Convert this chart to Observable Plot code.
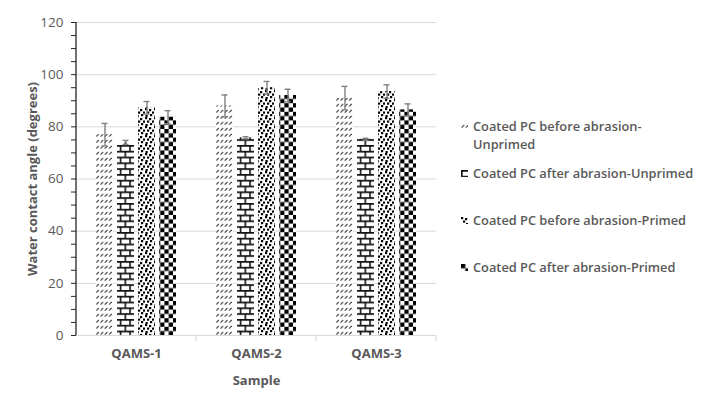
<!DOCTYPE html>
<html>
<head>
<meta charset="utf-8">
<script src="https://cdn.jsdelivr.net/npm/d3@7"></script>
<script src="https://cdn.jsdelivr.net/npm/@observablehq/plot@0.6"></script>
<style>
  html, body { margin: 0; padding: 0; background: #fff; }
  #wrap { position: relative; width: 726px; height: 397px; font-family: "Open Sans", sans-serif; }
  #legend { position: absolute; left: 461px; top: 117px; color: #595959; font-size: 12.8px; font-weight: 600; }
  .item { position: relative; height: 47px; }
  .item svg { position: absolute; left: 0; top: 6px; }
  .item span { position: absolute; left: 12px; top: 0; width: 222px; line-height: 18px; }
</style>
</head>
<body>
<div id="wrap"><div id="chart"></div><div id="legend"></div></div>
<script>
const samples = ["QAMS-1", "QAMS-2", "QAMS-3"];
const series = [
  "Coated PC before abrasion-Unprimed",
  "Coated PC after abrasion-Unprimed",
  "Coated PC before abrasion-Primed",
  "Coated PC after abrasion-Primed"
];
const beforeUnprimed = [77, 88, 91];
const afterUnprimed = [74, 75.8, 75.2];
const beforePrimed = [87.3, 95, 93.5];
const afterPrimed = [83.7, 92, 86.5];
const errBeforeUnprimed = [4.3, 4.2, 4.5];
const errAfterUnprimed = [0.8, 0.4, 0.4];
const errBeforePrimed = [2.4, 2.4, 2.6];
const errAfterPrimed = [2.5, 2.4, 2.3];
const yTicks = [0, 20, 40, 60, 80, 100, 120];

const values = [beforeUnprimed, afterUnprimed, beforePrimed, afterPrimed];
const errors = [errBeforeUnprimed, errAfterUnprimed, errBeforePrimed, errAfterPrimed];
const patternIds = ["pat0", "pat1", "pat2", "pat3"];
const patternUrls = patternIds.map(id => `url(#${id})`);

const data = samples.flatMap((s, i) => series.map((name, j) => ({
  sample: s, series: name, value: values[j][i], err: errors[j][i]
})));

const plot = Plot.plot({
  width: 726,
  height: 397,
  marginLeft: 75,
  marginRight: 289,
  marginTop: 22,
  marginBottom: 62,
  style: { fontFamily: "Open Sans, sans-serif", fontSize: "13px", color: "#595959", fontWeight: 600 },
  fx: { domain: samples, padding: 0 },
  x: { domain: series, paddingInner: 0.18, paddingOuter: 0.83, axis: null },
  y: { domain: [0, 120] },
  color: { domain: series, range: patternUrls },
  marks: [
    Plot.gridY(yTicks.filter(d => d > 0), { stroke: "#d9d9d9", strokeOpacity: 1 }),
    Plot.barY(data, { fx: "sample", x: "series", y: "value", fill: "series" }),
    Plot.ruleY([0], { stroke: "#d9d9d9", strokeWidth: 1.2 }),
    Plot.ruleX(data, { fx: "sample", x: "series", y1: d => d.value - d.err, y2: d => d.value + d.err, stroke: "#808080", strokeWidth: 1.4 }),
    Plot.tickY(data, { fx: "sample", x: "series", y: d => d.value + d.err, stroke: "#808080", strokeWidth: 1.4, insetLeft: 5.5, insetRight: 5.5 }),
    Plot.tickY(data, { fx: "sample", x: "series", y: d => d.value - d.err, stroke: "#808080", strokeWidth: 1.4, insetLeft: 5.5, insetRight: 5.5 }),
    Plot.axisY(d3.range(0, 121, 5), {
      tickFormat: d => d % 20 === 0 ? d : "",
      tickSize: 5, tickPadding: 8, fontWeight: "normal", fontSize: 13.5,
      stroke: "#262626",
      label: "Water contact angle (degrees)", labelAnchor: "center", labelOffset: 49, labelArrow: "none"
    }),
    Plot.axisFx({ anchor: "bottom", tickSize: 0, tickPadding: 13, fontWeight: 700,
      label: "Sample", labelAnchor: "center", labelOffset: 49 })
  ]
});

const svg = d3.select(plot);
svg.selectAll('[aria-label="y-axis label"]').attr("font-weight", 700).attr("font-size", 13).selectAll("text").attr("font-weight", 700);
svg.selectAll('[aria-label="fx-axis label"]').attr("font-weight", 700).selectAll("text").attr("font-weight", 700);
svg.selectAll('[aria-label="fx-axis tick label"]').attr("font-weight", 700).selectAll("text").attr("font-weight", 700);

const defs = svg.insert("defs", ":first-child");
// pattern 0: small diagonal dashes
const p0 = defs.append("pattern").attr("id", "pat0").attr("patternUnits", "userSpaceOnUse").attr("width", 4.3).attr("height", 6);
p0.append("rect").attr("width", 4.3).attr("height", 6).attr("fill", "#fff");
p0.append("path").attr("d", "M0.6,4.6L3.2,2").attr("stroke", "#444").attr("stroke-width", 1.1);
// pattern 1: horizontal brick
const p1 = defs.append("pattern").attr("id", "pat1").attr("patternUnits", "userSpaceOnUse").attr("width", 9.5).attr("height", 11.6);
p1.append("rect").attr("width", 9.5).attr("height", 11.6).attr("fill", "#fff");
p1.append("rect").attr("y", 0).attr("width", 9.5).attr("height", 1.7).attr("fill", "#111");
p1.append("rect").attr("y", 5.8).attr("width", 9.5).attr("height", 1.7).attr("fill", "#111");
p1.append("rect").attr("x", 0).attr("y", 0).attr("width", 1.6).attr("height", 5.8).attr("fill", "#111");
p1.append("rect").attr("x", 4.75).attr("y", 5.8).attr("width", 1.6).attr("height", 5.8).attr("fill", "#111");
// pattern 2: confetti dots
const p2 = defs.append("pattern").attr("id", "pat2").attr("patternUnits", "userSpaceOnUse").attr("width", 9).attr("height", 9);
p2.append("rect").attr("width", 9).attr("height", 9).attr("fill", "#fff");
[[0,0],[4,1],[7,3.5],[2,3.5],[5,6],[0.5,7]].forEach(([x, y]) =>
  p2.append("rect").attr("x", x).attr("y", y).attr("width", 2.2).attr("height", 2.2).attr("fill", "#000"));
// pattern 3: large checkerboard
const p3 = defs.append("pattern").attr("id", "pat3").attr("patternUnits", "userSpaceOnUse").attr("width", 8.6).attr("height", 8.6);
p3.append("rect").attr("width", 8.6).attr("height", 8.6).attr("fill", "#fff");
p3.append("rect").attr("width", 4.3).attr("height", 4.3).attr("fill", "#000");
p3.append("rect").attr("x", 4.3).attr("y", 4.3).attr("width", 4.3).attr("height", 4.3).attr("fill", "#000");

// y axis line and category boundary ticks, from the library's scales
const fx = plot.scale("fx"), y = plot.scale("y");
const y0 = y.apply(0), yTop = y.apply(120);
const x0 = fx.apply(samples[0]);
svg.append("line").attr("x1", x0).attr("x2", x0).attr("y1", yTop).attr("y2", y0)
  .attr("stroke", "#262626").attr("stroke-width", 1.3);
const bounds = samples.map(s => fx.apply(s)).concat([fx.apply(samples[samples.length - 1]) + fx.bandwidth]);
bounds.slice(1).forEach(bx => svg.append("line").attr("x1", bx).attr("x2", bx).attr("y1", y0).attr("y2", y0 + 6)
  .attr("stroke", "#d9d9d9").attr("stroke-width", 1.2));

document.getElementById("chart").appendChild(plot);

// legend
const legend = d3.select("#legend");
series.forEach((name, j) => {
  const item = legend.append("div").attr("class", "item");
  const s = item.append("svg").attr("width", 7).attr("height", 7);
  s.append("rect").attr("width", 7).attr("height", 7).attr("fill", patternUrls[j]);
  item.append("span").text(name);
});
</script>
</body>
</html>
